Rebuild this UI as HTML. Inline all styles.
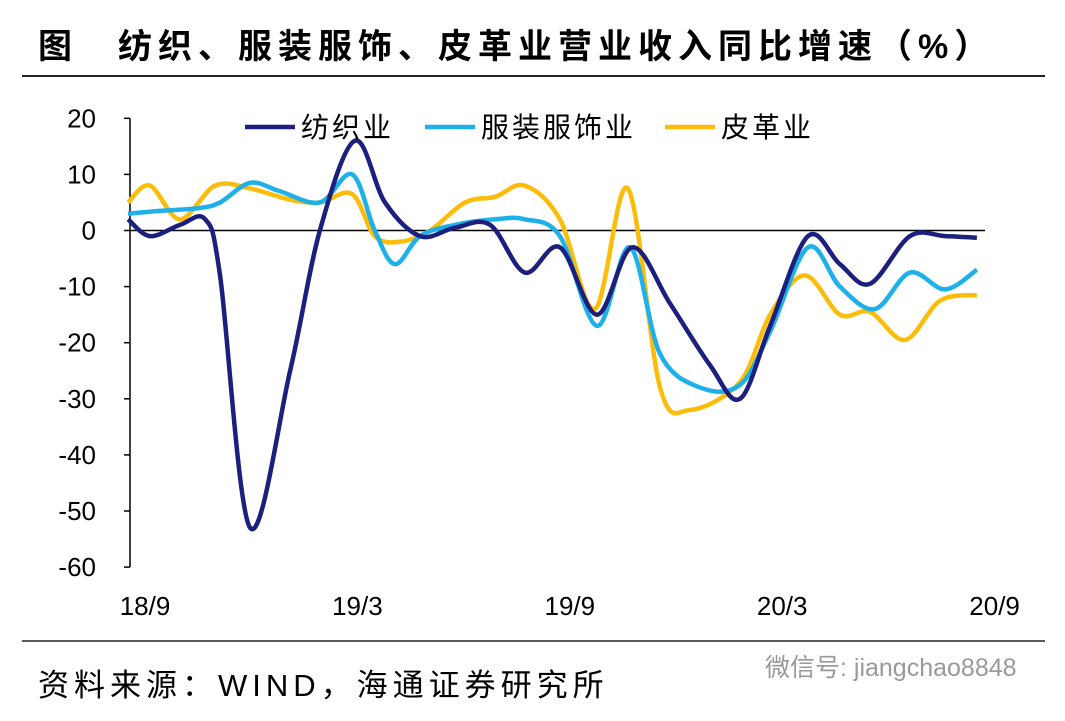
<!DOCTYPE html>
<html><head><meta charset="utf-8"><style>
body{margin:0;background:#fff;width:1065px;height:716px;overflow:hidden;font-family:"Liberation Sans","Noto Sans CJK SC",sans-serif}
</style></head><body>
<svg width="1065" height="716" xmlns="http://www.w3.org/2000/svg">
<text x="38" y="58" font-size="34" font-weight="bold" font-family="Liberation Sans,Noto Sans CJK SC,sans-serif">图</text>
<text x="118" y="58" font-size="34" font-weight="bold" letter-spacing="6" font-family="Liberation Sans,Noto Sans CJK SC,sans-serif">纺织、服装服饰、皮革业营业收入同比增速（%）</text>
<line x1="22" y1="76" x2="1045" y2="76" stroke="#222" stroke-width="2"/>
<line x1="22" y1="641" x2="1045" y2="641" stroke="#222" stroke-width="1.5"/>
<text x="38" y="696" font-size="31" letter-spacing="5" font-family="Liberation Sans,Noto Sans CJK SC,sans-serif">资料来源：WIND，海通证券研究所</text>
<text x="765" y="676" font-size="25" fill="#999" font-family="Liberation Sans,Noto Sans CJK SC,sans-serif">微信号: jiangchao8848</text>
<g id="axes"></g><g id="series"></g><g id="legend"></g>
</svg>
<script>
const yTicks=[20,10,0,-10,-20,-30,-40,-50,-60];
const xLabels=["18/9","19/3","19/9","20/3","20/9"];
const xLabelMonths=[0,6,12,18,24];
const seriesNames=["纺织业","服装服饰业","皮革业"];
const colors=["#1b1f7e","#1eb0e8","#fbbd0a"];
const textileX=[0,0.62,1.47,2.18,2.6,3.45,4.58,5.42,6.41,7.26,8.25,9.24,10.23,11.21,12.2,13.25,14.24,15.31,16.44,17.29,18.14,19.21,20.11,20.96,22.09,23.08,23.98];
const textileY=[2,-1,1,2,-8,-53,-25,0,16,5,-1,0.5,1,-7.5,-3,-15,-3,-13,-24,-30,-17,-1,-6,-9.5,-1,-1,-1.3];
const apparelX=[0,0.9,2.01,2.6,3.45,4.29,5.42,6.33,6.97,7.54,8.25,9.24,10.37,11.21,12.2,13.25,14.18,15.03,16.16,17.29,18.14,19.21,20.11,21.1,22.09,23.08,23.98];
const apparelY=[3,3.5,4,5,8.5,7,5,10,0,-6,-1,1,2,2,-1,-17,-3,-22,-28,-27.5,-18,-3,-10,-14,-7.5,-10.5,-7];
const leatherX=[0,0.62,1.47,2.46,3.45,4.58,5.42,6.33,6.97,7.68,8.53,9.52,10.37,11.21,12.2,13.19,14.12,15.03,15.87,17.29,18.14,19.12,20.11,20.96,21.95,22.94,23.98];
const leatherY=[5,8,2,8,7.5,5.5,5,6.5,-1,-2,0,5,6,8,2,-14,7.5,-28,-32,-27,-15,-8,-15,-14.5,-19.5,-12.5,-11.5];
const NS="http://www.w3.org/2000/svg";
const sx=m=>128+m*35.4, sy=v=>230.5-v*5.61;
function mk(t,a,p){const e=document.createElementNS(NS,t);for(const k in a)e.setAttribute(k,a[k]);p.appendChild(e);return e;}
const ax=document.getElementById('axes');
let l=mk('line',{x1:130,y1:sy(20),x2:130,y2:sy(-60),stroke:'#000','stroke-width':1.5},ax);


l=mk('line',{x1:130,y1:sy(0),x2:985,y2:sy(0),stroke:'#000','stroke-width':1.5},ax);


yTicks.forEach(v=>{
 const t=mk('line',{x1:124,y1:sy(v),x2:130,y2:sy(v),stroke:'#000','stroke-width':1.5},ax);
 
 
 const tx=mk('text',{x:96,y:sy(v)+9,'text-anchor':'end','font-size':26},ax);tx.textContent=v;
 
 
});
xLabels.forEach((s,i)=>{
 const tx=mk('text',{x:sx(xLabelMonths[i])+17,y:615,'text-anchor':'middle','font-size':26},ax);tx.textContent=s;
 
 
});
function path(xs,ys){const p=xs.map((m,i)=>[sx(m),sy(ys[i])]);let d=`M${p[0][0]},${p[0][1]}`;
 for(let i=0;i<p.length-1;i++){const p0=p[Math.max(0,i-1)],p1=p[i],p2=p[i+1],p3=p[Math.min(p.length-1,i+2)];
 d+=` C${p1[0]+(p2[0]-p0[0])/6},${p1[1]+(p2[1]-p0[1])/6} ${p2[0]-(p3[0]-p1[0])/6},${p2[1]-(p3[1]-p1[1])/6} ${p2[0]},${p2[1]}`;}return d;}
const sg=document.getElementById('series');
const data=[[textileX,textileY],[apparelX,apparelY],[leatherX,leatherY]];
const snames=['textile-line','apparel-line','leather-line'];
[2,1,0].forEach(i=>{const e=mk('path',{d:path(data[i][0],data[i][1]),fill:'none',stroke:colors[i],'stroke-width':4.5,'stroke-linejoin':'round'},sg);
 
 });
const lg=document.getElementById('legend');const lx=[245,425,665];
seriesNames.forEach((n,i)=>{
 const g=mk('g',{},lg);
 
 
 mk('line',{x1:lx[i],y1:127,x2:lx[i]+50,y2:127,stroke:colors[i],'stroke-width':4.5},g);
 const t=mk('text',{x:lx[i]+56,y:137,'font-size':28,'letter-spacing':3},g);t.textContent=n;
});
</script>
</body></html>
